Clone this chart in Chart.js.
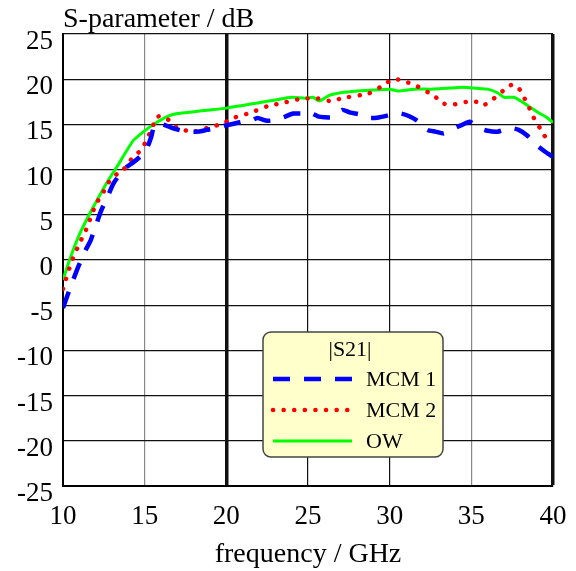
<!DOCTYPE html>
<html>
<head>
<meta charset="utf-8">
<script src="https://cdn.jsdelivr.net/npm/chart.js@4/dist/chart.umd.min.js"></script>
<style>
  html, body { margin: 0; padding: 0; background: #fff; }
  #wrap { width: 576px; height: 571px; position: relative; }
</style>
</head>
<body>
<div id="wrap"><canvas id="sparChart"></canvas></div>
<script>
// --- dados ---
const xTicks = [10, 15, 20, 25, 30, 35, 40];
const yTicks = [-25, -20, -15, -10, -5, 0, 5, 10, 15, 20, 25];

const mcm1Freq = [10, 10.5, 10.9, 11.3, 11.7, 12.3, 12.7, 13.1, 13.5, 13.9, 14.3, 14.7, 15.1, 15.4, 15.6, 16.1, 16.7, 17.3, 17.8, 18.3, 18.8, 19.4, 20, 20.5, 21, 21.5, 21.9, 22.5, 23, 23.5, 24.1, 24.6, 25, 25.6, 26, 26.5, 27.1, 27.6, 28.2, 28.8, 29.4, 29.9, 30.3, 30.7, 31.2, 31.7, 32.3, 32.8, 33.3, 33.7, 34.1, 34.5, 34.9, 35.5, 36, 36.6, 37, 37.4, 37.9, 38.4, 39, 39.5, 40];
const mcm1Db = [-5.3, -2.8, -0.9, 0.8, 2.2, 5.3, 6.9, 8.5, 9.5, 10.3, 10.8, 11.4, 12.2, 13.6, 14.9, 15.0, 14.6, 14.3, 14.2, 14.2, 14.4, 14.6, 14.9, 15.1, 15.3, 15.4, 15.7, 15.4, 15.5, 15.8, 16.2, 16.2, 16.4, 15.9, 15.8, 15.8, 16.6, 16.3, 16.1, 15.7, 15.8, 16.0, 16.2, 16.2, 15.9, 15.4, 14.4, 14.2, 14.0, 14.3, 14.7, 15.0, 15.3, 14.6, 14.3, 14.2, 14.4, 14.6, 14.4, 13.8, 12.7, 12.0, 11.4];

const mcm2Freq = [10, 10.5, 11, 11.4, 12, 12.5, 12.9, 13.3, 13.7, 14.3, 14.8, 15.2, 15.5, 15.7, 16.1, 16.6, 17, 18, 19, 19.8, 20.4, 21.5, 22.5, 23.5, 24.5, 25.4, 25.9, 26.3, 27.4, 28.7, 29.1, 29.5, 30, 30.4, 31, 31.5, 32, 32.4, 32.9, 33.3, 33.8, 34.3, 34.7, 35.3, 35.7, 36.2, 36.6, 37, 37.5, 37.9, 38.2, 38.4, 38.7, 38.9, 39.2, 39.5, 40];
const mcm2Db = [-3.2, -0.3, 1.8, 3.3, 6.1, 7.6, 8.9, 9.5, 10.0, 11.4, 12.2, 13.6, 14.8, 15.8, 15.9, 15.3, 14.6, 14.2, 14.7, 15.1, 15.7, 16.3, 17.0, 17.4, 17.8, 17.9, 17.8, 17.6, 18.0, 18.4, 18.8, 19.2, 19.8, 20.0, 19.7, 19.4, 18.9, 18.5, 17.9, 17.3, 17.2, 17.3, 17.5, 17.5, 17.1, 17.6, 18.2, 18.8, 19.4, 19.0, 18.1, 17.3, 16.3, 15.4, 14.6, 13.7, 13.0];

const owFreq = [10, 10.4, 11, 11.6, 12.2, 12.8, 13.3, 13.8, 14.3, 14.8, 15.3, 15.8, 16.4, 17, 18, 19, 20, 21, 22, 23, 24, 24.8, 25.3, 25.7, 26.3, 27, 28, 29, 30, 30.5, 31.5, 32.5, 33.5, 34.5, 35.3, 36, 36.6, 37, 37.6, 38.1, 38.6, 39.2, 39.6, 40];
const owDb = [-2.2, 0, 2.8, 5.0, 7.0, 8.9, 10.3, 11.8, 13.2, 14.0, 14.7, 15.3, 15.9, 16.2, 16.4, 16.6, 16.8, 17.1, 17.4, 17.7, 18.0, 17.9, 18.0, 17.6, 18.2, 18.5, 18.7, 18.8, 18.9, 18.7, 18.9, 18.9, 19.0, 19.1, 19.0, 18.9, 18.5, 18.0, 18.0, 17.5, 16.9, 16.2, 15.8, 15.2];

const seriesNames = ['MCM 1', 'MCM 2', 'OW'];
const legendTitle = '|S21|';

const fontFam = '"Liberation Serif", "Times New Roman", serif';

function pts(xs, ys) {
    return xs.map((x, i) => ({ x: x, y: ys[i] }));
}

// título do eixo Y no canto superior + legenda em caixa amarela
const extrasPlugin = {
    id: 'extras',
    afterDraw(chart) {
        const ctx = chart.ctx;
        ctx.save();
        ctx.fillStyle = '#000';
        ctx.font = '28px ' + fontFam;
        ctx.textAlign = 'left';
        ctx.textBaseline = 'alphabetic';
        ctx.fillText('S-parameter / dB', 63, 27);

        // caixa da legenda
        const bx = 263, by = 332, bw = 180, bh = 125, r = 8;
        ctx.beginPath();
        ctx.roundRect(bx, by, bw, bh, r);
        ctx.fillStyle = '#FFFFCC';
        ctx.fill();
        ctx.lineWidth = 1.5;
        ctx.strokeStyle = '#444';
        ctx.stroke();

        ctx.fillStyle = '#000';
        ctx.font = '22px ' + fontFam;
        ctx.textAlign = 'center';
        ctx.textBaseline = 'middle';
        ctx.fillText(legendTitle, 350, 350);

        chart.data.datasets.forEach((ds, i) => {
            const y = 379 + i * 31;
            ctx.save();
            ctx.beginPath();
            ctx.strokeStyle = ds.borderColor;
            ctx.lineWidth = ds.borderWidth;
            ctx.lineCap = ds.borderCapStyle || 'butt';
            ctx.setLineDash(ds.borderDash || []);
            ctx.moveTo(273, y);
            ctx.lineTo(352, y);
            ctx.stroke();
            ctx.restore();
            ctx.fillStyle = '#000';
            ctx.font = '22px ' + fontFam;
            ctx.textAlign = 'left';
            ctx.fillText(ds.label, 366, y + 1);
        });
        ctx.restore();
    }
};

const ctx = document.getElementById('sparChart').getContext('2d');
new Chart(ctx, {
    type: 'line',
    data: {
        datasets: [
            {
                label: seriesNames[0],
                data: pts(mcm1Freq, mcm1Db),
                borderColor: '#0000FF', borderWidth: 4.5, borderDash: [17, 14],
                pointRadius: 0, tension: 0.2, fill: false
            },
            {
                label: seriesNames[1],
                data: pts(mcm2Freq, mcm2Db),
                borderColor: '#FF0000', borderWidth: 4.5, borderDash: [0.1, 10.5], borderCapStyle: 'round',
                pointRadius: 0, tension: 0.2, fill: false
            },
            {
                label: seriesNames[2],
                data: pts(owFreq, owDb),
                borderColor: '#00FF00', borderWidth: 3,
                pointRadius: 0, tension: 0.2, fill: false
            }
        ]
    },
    options: {
        responsive: true,
        maintainAspectRatio: false,
        animation: false,
        layout: { padding: { left: 0, top: 34, right: 23, bottom: 0 } },
        plugins: { legend: { display: false }, tooltip: { enabled: false } },
        scales: {
            x: {
                type: 'linear', min: 10, max: 40,
                afterBuildTicks: (s) => { s.ticks = xTicks.map(v => ({ value: v })); },
                afterFit: (s) => { s.height = 85; s.paddingLeft = 0; s.paddingRight = 0; },
                grid: {
                    drawTicks: false,
                    color: (c) => (c.tick.value === 15 || c.tick.value === 35) ? '#888' : '#111',
                    lineWidth: (c) => (c.tick.value === 20 || c.tick.value === 40) ? 3.5 : 1.2
                },
                border: { color: '#000', width: 2 },
                ticks: { color: '#000', padding: 15, font: { family: fontFam, size: 27 } },
                title: { display: true, text: 'frequency / GHz', color: '#000', padding: { top: 2, bottom: 0 }, font: { family: fontFam, size: 28 } }
            },
            y: {
                min: -25, max: 25,
                afterBuildTicks: (s) => { s.ticks = yTicks.map(v => ({ value: v })); },
                afterFit: (s) => { s.width = 63; },
                grid: { drawTicks: false, color: '#111', lineWidth: 1.2 },
                border: { color: '#000', width: 2 },
                ticks: { color: '#000', padding: 10, labelOffset: 8, font: { family: fontFam, size: 27 } }
            }
        }
    },
    plugins: [extrasPlugin]
});
</script>
</body>
</html>
